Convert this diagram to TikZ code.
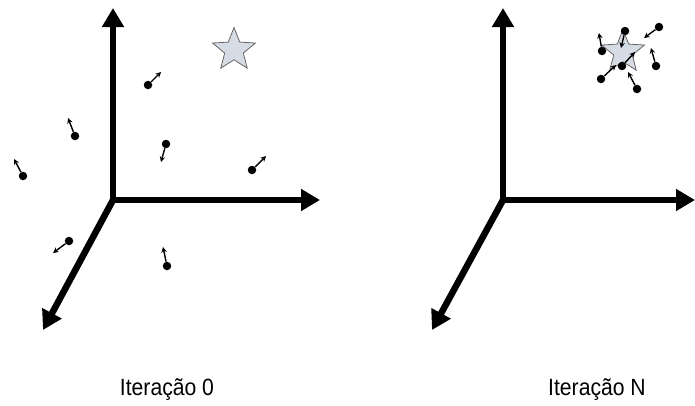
\documentclass[tikz,border=0pt]{standalone}
\usepackage{fontspec}
\setmainfont[FakeStretch=0.9]{Liberation Sans}
\usetikzlibrary{arrows.meta,shapes.geometric}
\definecolor{starfill}{RGB}{214,220,229}
\begin{document}
\begin{tikzpicture}[x=1pt, y=-1pt,
        axis/.style={line width=6.5pt, -{Triangle[length=19pt, width=21pt]}},
        target/.style={star, star points=5, star point ratio=2.3, minimum size=45pt, inner sep=0pt, draw=gray!80!black, fill=starfill, line width=0.8pt},
        particle/.style={circle, fill=black, inner sep=0pt, minimum size=8.5pt},
        move/.style={line width=1.4pt, -{Stealth[length=5.5pt, width=5.5pt]}},
        caption/.style={font=\fontsize{23.5}{28}\selectfont}
    ]
        \useasboundingbox (0,0) rectangle (695,405);

        % Iteracao 0
        \coordinate (o1) at (113,200);
        \coordinate (y1) at (113,8);
        \coordinate (x1) at (320,200);
        \coordinate (z1) at (43,330);
        \draw[axis] (o1) -- (y1);
        \draw[axis] (o1) -- (x1);
        \draw[axis] (o1) -- (z1);

        \node[target] (best1) at (234,50) {};

        \node[particle] (p1) at (148,85) {};
        \node[particle] (p2) at (75,136) {};
        \node[particle] (p3) at (23,176) {};
        \node[particle] (p4) at (166,144) {};
        \node[particle] (p5) at (252,170) {};
        \node[particle] (p6) at (69,241) {};
        \node[particle] (p7) at (167,266) {};
        \coordinate (v1) at (161,72);
        \coordinate (v2) at (68,118);
        \coordinate (v3) at (14,159);
        \coordinate (v4) at (161,162);
        \coordinate (v5) at (266,156);
        \coordinate (v6) at (53,253);
        \coordinate (v7) at (163,247);
        \draw[move] (p1) -- (v1);
        \draw[move] (p2) -- (v2);
        \draw[move] (p3) -- (v3);
        \draw[move] (p4) -- (v4);
        \draw[move] (p5) -- (v5);
        \draw[move] (p6) -- (v6);
        \draw[move] (p7) -- (v7);

        \node[caption] (it0) at (167,390) {Iteração 0};

        % Iteracao N
        \coordinate (o2) at (503,200);
        \coordinate (y2) at (503,8);
        \coordinate (x2) at (695,200);
        \coordinate (z2) at (432,330);
        \draw[axis] (o2) -- (y2);
        \draw[axis] (o2) -- (x2);
        \draw[axis] (o2) -- (z2);

        \node[target] (best2) at (623,52) {};

        \node[particle] (q1) at (659,27) {};
        \node[particle] (q2) at (625,31) {};
        \node[particle] (q3) at (602,51) {};
        \node[particle] (q4) at (656,66) {};
        \node[particle] (q5) at (622,66) {};
        \node[particle] (q6) at (601,79) {};
        \node[particle] (q7) at (637,89) {};
        \coordinate (w1) at (644,38);
        \coordinate (w2) at (621,48);
        \coordinate (w3) at (599,33);
        \coordinate (w4) at (651,48);
        \coordinate (w5) at (635,52);
        \coordinate (w6) at (616,65);
        \coordinate (w7) at (628,72);
        \draw[move] (q1) -- (w1);
        \draw[move] (q2) -- (w2);
        \draw[move] (q3) -- (w3);
        \draw[move] (q4) -- (w4);
        \draw[move] (q5) -- (w5);
        \draw[move] (q6) -- (w6);
        \draw[move] (q7) -- (w7);

        \node[caption] (itn) at (597,390) {Iteração N};
\end{tikzpicture}
\end{document}
